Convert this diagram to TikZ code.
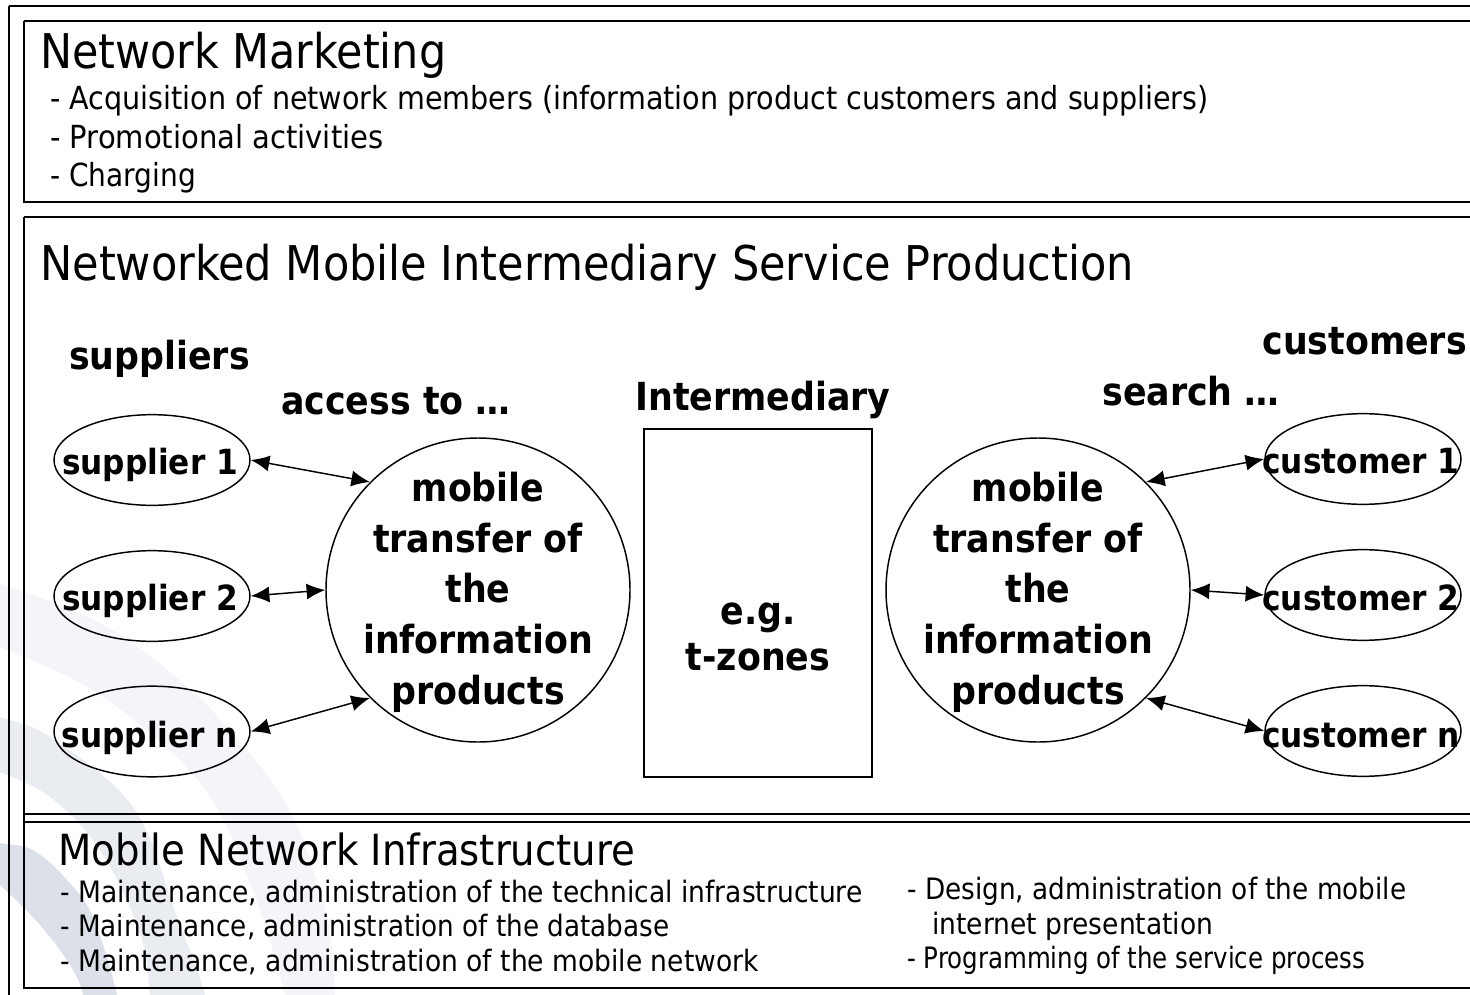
\documentclass[tikz,border=0pt]{standalone}
\usepackage{fontspec}
\setmainfont{DejaVu Sans Condensed}
\usetikzlibrary{arrows.meta,shapes.geometric}
\definecolor{bandA}{RGB}{243,245,248}
\definecolor{bandB}{RGB}{233,236,241}
\definecolor{bandC}{RGB}{220,225,233}
\tikzset{
  panel/.style={draw=black,line width=1.4pt},
  txt/.style={anchor=base west,inner sep=0pt,font=\fontsize{23.85}{27}\selectfont},
  txtb/.style={anchor=base west,inner sep=0pt,font=\fontsize{22.1}{27}\selectfont},
  head/.style={anchor=base west,inner sep=0pt,font=\fontsize{35.9}{40}\selectfont},
  headsmall/.style={anchor=base west,inner sep=0pt,font=\fontsize{32.2}{35}\selectfont},
  lab/.style={inner sep=0pt,font=\bfseries\fontsize{29}{38}\selectfont,align=center},
  ovallab/.style={inner sep=0pt,anchor=base,font=\bfseries\fontsize{26}{30}\selectfont},
  oval/.style={draw,ellipse,line width=1.1pt,minimum width=147pt,minimum height=68pt,inner sep=0pt},
  bigc/.style={draw,circle,line width=1.1pt,minimum size=228pt,inner sep=0pt},
  link/.style={line width=1.1pt,{Latex[length=14pt,width=12pt]}-{Latex[length=14pt,width=12pt]}}
}
\begin{document}
\begin{tikzpicture}[x=0.75pt,y=-0.75pt]
\useasboundingbox (0,0) rectangle (1470,995);
\begin{scope}
\clip (0,0) rectangle (1470,995);
\fill[bandA] plot[smooth,tension=0.6] coordinates {(-30,570) (0,583) (100,623) (183,683) (247,750) (293,817) (327,917) (335,995) (335,1030) (285,1030) (285,995) (250,883) (200,783) (100,695) (0,647) (-30,635)} -- cycle;
\fill[bandB] plot[smooth,tension=0.6] coordinates {(-30,705) (0,717) (50,737) (133,807) (177,917) (205,995) (205,1030) (153,1030) (150,995) (140,933) (100,850) (50,797) (0,772) (-30,760)} -- cycle;
\fill[bandC] plot[smooth,tension=0.6] coordinates {(-30,835) (0,843) (33,850) (67,880) (93,917) (117,995) (117,1030) (83,1030) (83,995) (70,965) (40,925) (0,885) (-30,860)} -- cycle;
\end{scope}
\draw[panel] (9,6) -- (1470,6) (9,6) -- (9,995);
\draw[panel] (24,21) -- (1470,21) (24,21) -- (24,202) -- (1470,202);
\draw[panel] (24,217) -- (1470,217) (24,217) -- (24,988) -- (1470,988);
\draw[panel] (24,814) -- (1470,814) (24,822) -- (1470,822);
\node[head] (t1) at (40,69) {\scalebox{0.995}[1]{Network Marketing}};
\node[txt] (a1) at (50,110) {- Acquisition of network members (information product customers and suppliers)};
\node[txt] (a2) at (50,149) {\scalebox{1.015}[1]{- Promotional activities}};
\node[txt] (a3) at (50,186) {\scalebox{0.98}[1]{- Charging}};
\node[head] (t2) at (40,280) {Networked Mobile Intermediary Service Production};
\node[lab,anchor=base west] (sup) at (69,369) {suppliers};
\node[lab,anchor=base west] (acc) at (281,414) {access to …};
\node[lab,anchor=base] (int) at (763,410) {Intermediary};
\node[lab,anchor=base west] (sea) at (1102,405) {search …};
\node[lab,anchor=base east] (cus) at (1467,354) {customers};
\node[oval] (s1) at (152,460) {}; \node[ovallab] (s1t) at (150,474) {supplier 1};
\node[oval] (s2) at (152,596) {}; \node[ovallab] (s2t) at (150,610) {supplier 2};
\node[oval] (sn) at (152,731.5) {}; \node[ovallab] (snt) at (150,747) {supplier n};
\node[oval] (c1) at (1363,459) {}; \node[ovallab] (c1t) at (1361,473) {customer 1};
\node[oval] (c2) at (1363,595) {}; \node[ovallab] (c2t) at (1361,610) {customer 2};
\node[oval] (cn) at (1363,731) {}; \node[ovallab] (cnt) at (1361,747) {customer n};
\node[bigc] (m1) at (478,590) {};
\node[lab] (m1t) at (478,592) {mobile\\transfer of\\the\\information\\products};
\node[bigc] (m2) at (1038,590) {};
\node[lab] (m2t) at (1038,592) {mobile\\transfer of\\the\\information\\products};
\node[draw,line width=1.1pt,minimum width=171pt,minimum height=261pt,inner sep=0pt] (ez) at (758,603) {};
\node[lab,font=\bfseries\fontsize{29}{34}\selectfont] (ezt) at (758,637) {e.g.\\t-zones};
\draw[link] (s1.east) -- (m1.135);
\draw[link] (s2.east) -- (m1.180);
\draw[link] (sn.east) -- (m1.225);
\draw[link] (m2.45) -- (c1.west);
\draw[link] (m2.0) -- (c2.west);
\draw[link] (m2.315) -- (cn.west);
\node[headsmall] (t3) at (58,865) {Mobile Network Infrastructure};
\node[txtb] (b1) at (60,902) {- Maintenance, administration of the technical infrastructure};
\node[txtb] (b2) at (60,936) {\scalebox{0.99}[1]{- Maintenance, administration of the database}};
\node[txtb] (b3) at (60,971) {- Maintenance, administration of the mobile network};
\node[txtb] (d1) at (907,899) {\scalebox{0.992}[1]{- Design, administration of the mobile}};
\node[txtb] (d2) at (932,934) {internet presentation};
\node[txtb] (d3) at (907,968) {\scalebox{0.923}[1]{- Programming of the service process}};
\end{tikzpicture}
\end{document}
